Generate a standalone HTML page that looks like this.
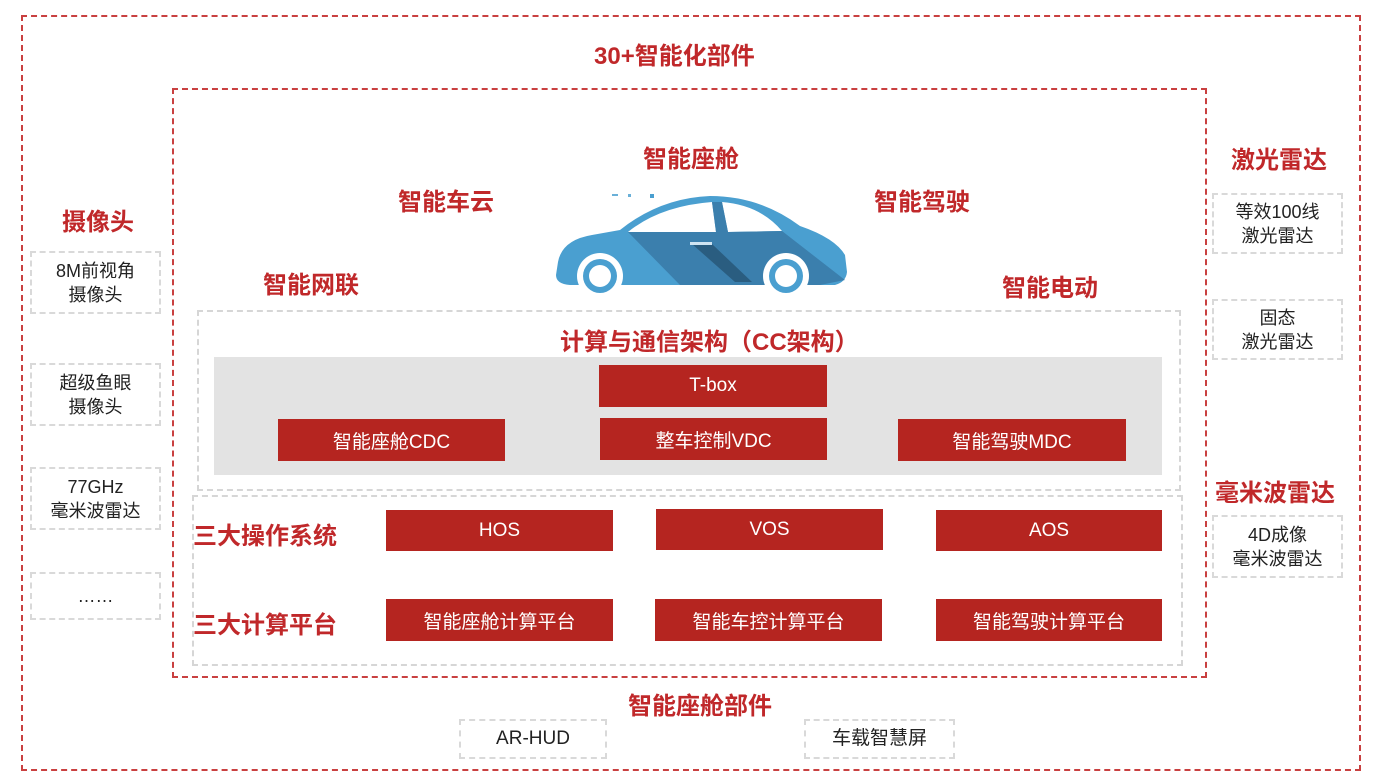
<!DOCTYPE html>
<html><head><meta charset="utf-8"><style>
body{margin:0;width:1374px;height:780px;background:#fff;position:relative;overflow:hidden;font-family:"Liberation Sans","Noto Sans CJK SC",sans-serif}
.a{position:absolute;box-sizing:border-box}
.rd{border:2px dashed #c94040}
.gd{border:2px dashed #d6d6d6}
.t{position:absolute;color:#c0282a;font-weight:bold;font-size:24px;white-space:nowrap}
.r{position:absolute;background:#b52520;color:#fff;font-size:19px;display:flex;align-items:center;justify-content:center}
.s{position:absolute;box-sizing:border-box;border:2px dashed #d9d9d9;font-size:18px;color:#222;display:flex;align-items:center;justify-content:center;text-align:center;line-height:24px}
</style></head><body>
<div class="a rd" style="left:21px;top:15px;width:1340px;height:756px"></div>
<div class="a rd" style="left:172px;top:88px;width:1035px;height:590px"></div>
<div class="a gd" style="left:197px;top:310px;width:984px;height:181px"></div>
<div class="a" style="left:214px;top:357px;width:948px;height:118px;background:#e3e3e3"></div>
<div class="a gd" style="left:192px;top:495px;width:991px;height:171px"></div>

<div class="t" style="left:594px;top:36px">30+智能化部件</div>
<div class="t" style="left:643px;top:139px">智能座舱</div>
<div class="t" style="left:398px;top:182px">智能车云</div>
<div class="t" style="left:874px;top:182px">智能驾驶</div>
<div class="t" style="left:263px;top:265px">智能网联</div>
<div class="t" style="left:1002px;top:268px">智能电动</div>
<div class="t" style="left:560px;top:322px">计算与通信架构（CC架构）</div>
<div class="t" style="left:193px;top:516px">三大操作系统</div>
<div class="t" style="left:193px;top:605px">三大计算平台</div>
<div class="t" style="left:628px;top:686px">智能座舱部件</div>
<div class="t" style="left:62px;top:202px">摄像头</div>
<div class="t" style="left:1231px;top:140px">激光雷达</div>
<div class="t" style="left:1215px;top:473px">毫米波雷达</div>

<svg class="a" style="left:540px;top:170px" width="320" height="140" viewBox="540 170 320 140">
<path d="M558 262 Q562 240 592 235 L620 230 Q660 198 710 196 Q760 196 800 226 Q835 238 845 255 L847 272 Q846 282 835 285 L570 285 Q556 284 556 275 Z" fill="#4a9fd0"/>
<path d="M628 232 Q660 206 712 202 L716 232 Z M722 202 Q760 205 782 231 L728 232 Z" fill="#fff"/>
<path d="M628 232 L716 232 L712 202 L722 202 L728 232 L782 231 L845 280 L820 285 L680 285 Z" fill="#3b7fad"/>
<path d="M692 244 L712 244 L752 282 L735 282 Z" fill="#2a5d80"/>
<rect x="690" y="242" width="22" height="3" fill="#cfe4f2"/>
<circle cx="600" cy="276" r="23" fill="#fff"/><circle cx="600" cy="276" r="17" fill="#4a9fd0"/><circle cx="600" cy="276" r="11" fill="#fff"/>
<circle cx="786" cy="276" r="23" fill="#fff"/><circle cx="786" cy="276" r="17" fill="#4a9fd0"/><circle cx="786" cy="276" r="11" fill="#fff"/>
<rect x="612" y="194" width="6" height="2" fill="#6ab0d8"/><rect x="628" y="194" width="3" height="3" fill="#6ab0d8"/><rect x="650" y="194" width="4" height="4" fill="#4a9fd0"/>
</svg>

<div class="r" style="left:599px;top:365px;width:228px;height:42px">T-box</div>
<div class="r" style="left:278px;top:419px;width:227px;height:42px">智能座舱CDC</div>
<div class="r" style="left:600px;top:418px;width:227px;height:42px">整车控制VDC</div>
<div class="r" style="left:898px;top:419px;width:228px;height:42px">智能驾驶MDC</div>
<div class="r" style="left:386px;top:510px;width:227px;height:41px">HOS</div>
<div class="r" style="left:656px;top:509px;width:227px;height:41px">VOS</div>
<div class="r" style="left:936px;top:510px;width:226px;height:41px">AOS</div>
<div class="r" style="left:386px;top:599px;width:227px;height:42px">智能座舱计算平台</div>
<div class="r" style="left:655px;top:599px;width:227px;height:42px">智能车控计算平台</div>
<div class="r" style="left:936px;top:599px;width:226px;height:42px">智能驾驶计算平台</div>

<div class="s" style="left:30px;top:251px;width:131px;height:63px">8M前视角<br>摄像头</div>
<div class="s" style="left:30px;top:363px;width:131px;height:63px">超级鱼眼<br>摄像头</div>
<div class="s" style="left:30px;top:467px;width:131px;height:63px">77GHz<br>毫米波雷达</div>
<div class="s" style="left:30px;top:572px;width:131px;height:48px">……</div>
<div class="s" style="left:1212px;top:193px;width:131px;height:61px">等效100线<br>激光雷达</div>
<div class="s" style="left:1212px;top:299px;width:131px;height:61px">固态<br>激光雷达</div>
<div class="s" style="left:1212px;top:515px;width:131px;height:63px">4D成像<br>毫米波雷达</div>
<div class="s" style="left:459px;top:719px;width:148px;height:40px;font-size:19px">AR-HUD</div>
<div class="s" style="left:804px;top:719px;width:151px;height:40px;font-size:19px">车载智慧屏</div>
</body></html>
